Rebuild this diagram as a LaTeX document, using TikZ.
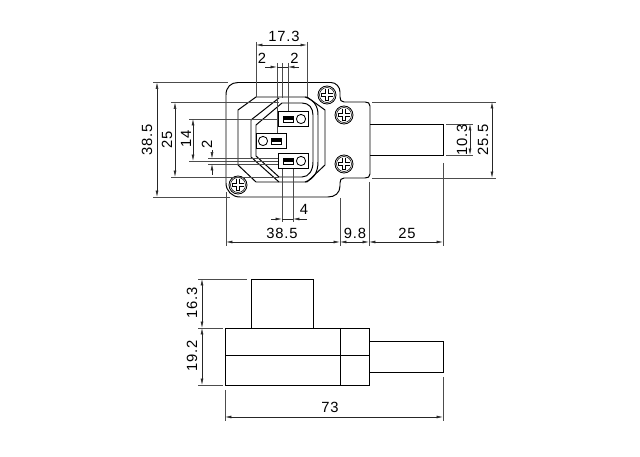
\documentclass[tikz,border=0pt]{standalone}
\usepackage{fontspec}
\setmainfont[LetterSpace=6]{Liberation Sans}
\usetikzlibrary{arrows.meta}
\tikzset{
  body/.style={line width=0.7pt,black},
  dim/.style={line width=0.4pt,black!85},
  ext/.style={line width=0.4pt,black!70},
  lab/.style={inner sep=0pt,font=\fontsize{10.5}{12}\selectfont},
  vlab/.style={lab,rotate=90}
}
\begin{document}
\begin{tikzpicture}[x=0.025cm,y=-0.025cm,>={Latex[length=4.5pt,width=2pt]}]
     \useasboundingbox (0,0) rectangle (640,457);
     % plate
     \draw[body] (238,82.5) -- (331,82.5)
       .. controls (336,82.5) and (340,87) .. (340,92) -- (340,97)
       .. controls (340,100) and (341,102) .. (344,102) -- (365,102)
       .. controls (368,102) and (370,103) .. (370,106) -- (370,174)
       .. controls (370,177) and (368,178) .. (365,178) -- (344,178)
       .. controls (341,178) and (340,180) .. (340,183) -- (340,186)
       .. controls (340,193) and (335,197) .. (328,197) -- (240,197)
       .. controls (232,197) and (226,191) .. (226,183) -- (226,95)
       .. controls (226,87) and (231,82.5) .. (238,82.5);
     % socket
     \draw[body] (256,97) -- (307,97) -- (325,110) -- (325,165) -- (307,182)
       -- (256,182) -- (238,165) -- (238,110) -- cycle;
     \draw[body] (251,120) -- (279,98) (251,120) -- (251,157) -- (279,182);
     \draw[body] (256,125) -- (282,103) -- (302,103)
       .. controls (309,103) and (313,108) .. (313,115) -- (313,162)
       .. controls (313,170) and (309,177) .. (302,177) -- (279,177) -- (256,156) -- cycle;
     \draw[body] (305,97) .. controls (314,100) and (318,106) .. (318,115) -- (318,162)
       .. controls (318,172) and (314,179) .. (305,182);
     % screws
     \foreach \x/\y in {327/95,344/115,344/164,238/185} {
      \draw[line width=0.6pt,fill=white] (\x,\y) circle(9);
      \draw[line width=0.4pt] (\x,\y) circle(7.5);
      \draw[line width=2.8pt] (\x-6,\y) -- (\x+6,\y) (\x,\y-6) -- (\x,\y+6);
      \draw[line width=1.7pt,white] (\x-5.5,\y) -- (\x+5.5,\y) (\x,\y-5.5) -- (\x,\y+5.5);
     }
     % pins
     \foreach \bx/\by/\sx/\cx in {278/111/283/301,256/133/271/263,278/153/283/301} {
      \draw[line width=0.6pt] (\bx,\by) rectangle (\bx+30,\by+15.5);
      \draw[line width=0.6pt] (\sx,\by+5) rectangle (\sx+10.5,\by+11);
      \fill (\sx+1,\by+6.5) rectangle (\sx+9.5,\by+9.5);
      \draw[line width=0.6pt] (\cx,\by+8) circle(4.6);
     }
     % prong and side view
     \draw[body] (370,124) -- (443,124) -- (443,155) -- (370,155);
     \draw[body] (225,328) rectangle (369,385);
     \draw[body] (225,355) -- (369,355);
     \draw[body] (340,328) -- (340,385);
     \draw[body] (251,328) -- (251,279) -- (313,279) -- (313,328);
     \draw[body] (369,341) -- (443,341) -- (443,372) -- (369,372);
     % extension lines
     \foreach \a/\b/\c/\d in {
       256/42/256/97, 307/42/307/97, 277/63/277/133, 282/63/282/98, 288/63/288/111,
       153/82.5/228/82.5, 153/197/230/197, 171/102.5/279/102.5, 171/177/279/177,
       189/119/278/119, 189/161/278/161, 208/158.5/278/158.5, 208/164/278/164,
       282/169/282/222, 293/169/293/222, 226/192/226/246, 340/198/340/246,
       369/182/369/246, 443/163/443/246, 372/102/496/102, 372/178/496/178,
       446/124/473/124, 446/155/473/155, 198/279/247/279, 198/328/223/328,
       198/385/223/385, 225/390/225/421, 443/377/443/421} {
      \draw[ext] (\a,\b) -- (\c,\d);
     }
     % dimension lines
     \draw[dim,<->] (256,45) -- (307,45);
     \draw[dim,->] (265,67) -- (277,67);
     \draw[dim,->] (299,67) -- (288,67);
     \draw[dim] (277,67) -- (288,67);
     \draw[dim,<->] (157,82.5) -- (157,197);
     \draw[dim,<->] (175,102.5) -- (175,177);
     \draw[dim,<->] (193,119) -- (193,161);
     \draw[dim,->] (212,150) -- (212,158.5);
     \draw[dim,->] (212,175) -- (212,164);
     \draw[dim,->] (271,219) -- (282,219);
     \draw[dim,->] (307,219) -- (293,219);
     \draw[dim] (282,219) -- (293,219);
     \draw[dim,<->] (226,242) -- (340,242);
     \draw[dim,<->] (340,242) -- (369,242);
     \draw[dim,<->] (369,242) -- (443,242);
     \draw[dim,<->] (492,102) -- (492,178);
     \draw[dim,<->] (470,124) -- (470,155);
     \draw[dim,<->] (202,279) -- (202,328);
     \draw[dim,<->] (202,328) -- (202,385);
     \draw[dim,<->] (225,417) -- (443,417);
     % labels
     \node[lab] (l173) at (284,36) {17.3};
     \node[lab] (l2a) at (262,58.5) {2};
     \node[lab] (l2b) at (294.5,58.5) {2};
     \node[vlab] (l385a) at (147,140) {38.5};
     \node[vlab] (l25a) at (167,140) {25};
     \node[vlab] (l14) at (186,139) {14};
     \node[vlab] (l2c) at (207,144) {2};
     \node[lab] (l4) at (304,209) {4};
     \node[lab] (l385b) at (282,233) {38.5};
     \node[lab] (l98) at (355,233) {9.8};
     \node[lab] (l25b) at (407,233) {25};
     \node[vlab] (l255) at (483,140) {25.5};
     \node[vlab] (l103) at (462,140) {10.3};
     \node[vlab] (l163) at (192,303) {16.3};
     \node[vlab] (l192) at (192,356) {19.2};
     \node[lab] (l73) at (330,407) {73};
\end{tikzpicture}
\end{document}
